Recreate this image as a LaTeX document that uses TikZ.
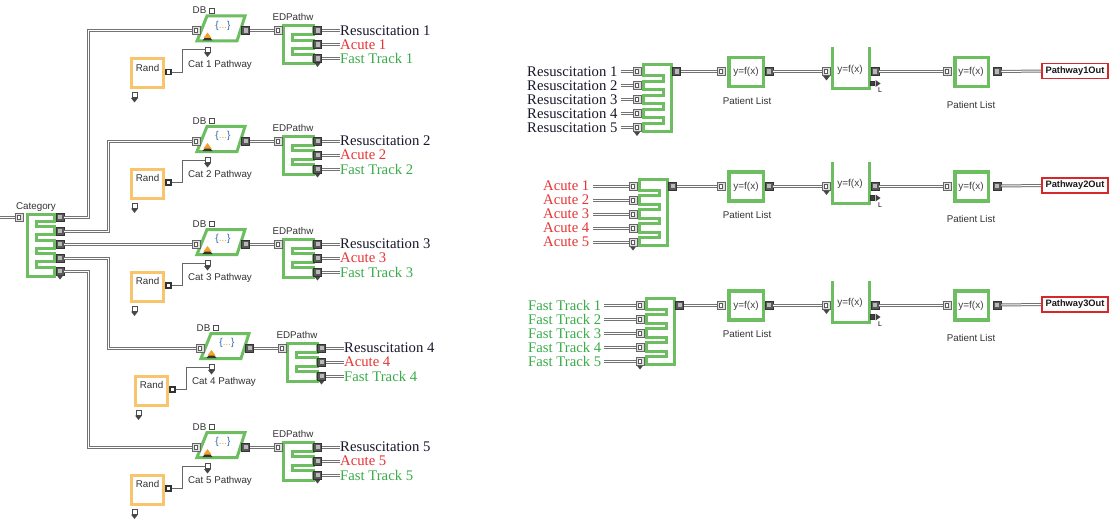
\documentclass[tikz,border=0pt]{standalone}
\usepackage{fontspec}
\setmainfont{Liberation Serif}
\setsansfont{Liberation Sans}
\definecolor{blkgreen}{RGB}{108,190,96}
\definecolor{randorange}{RGB}{248,196,108}
\definecolor{textdark}{RGB}{25,25,45}
\definecolor{textred}{RGB}{232,52,52}
\definecolor{textgreen}{RGB}{58,172,74}
\definecolor{outred}{RGB}{214,40,40}
\definecolor{dbblue}{RGB}{40,100,170}
\definecolor{arroworange}{RGB}{245,160,40}

% small dark "connector below" triangle
\newcommand\dtri[2]{\fill[black!72] (#1-3.5,#2) -- (#1+3.5,#2) -- (#1,#2+4.5) -- cycle;}
% comb block, arms open to the right: L T R B spine notches
\newcommand\combR[6]{\draw[blk] (#1,#2) -- (#3,#2) \foreach \nn in {#6} { -- (#3,\nn-2.6) -- (#5,\nn-2.6) -- (#5,\nn+2.6) -- (#3,\nn+2.6) } -- (#3,#4) -- (#1,#4) -- cycle;}
% comb block, arms open to the left: L T R B spine notches (bottom first)
\newcommand\combL[6]{\draw[blk] (#1,#2) -- (#3,#2) -- (#3,#4) -- (#1,#4) \foreach \nn in {#6} { -- (#1,\nn+2.6) -- (#5,\nn+2.6) -- (#5,\nn-2.6) -- (#1,\nn-2.6) } -- cycle;}

\tikzset{
  blk/.style={draw=blkgreen, line width=3pt, fill=white},
  item/.style={draw=black!55, line width=1pt, double=white, double distance=1pt},
  vline/.style={draw=black!60, line width=0.7pt},
  inport/.style={rectangle, inner sep=0pt, minimum size=8pt, fill=gray!25, draw=black!60, line width=0.6pt,
    path picture={\draw[black!65, fill=white, line width=0.6pt]
      ([shift={(-2.2pt,-2.2pt)}]path picture bounding box.center) rectangle
      ([shift={(1.6pt,2.2pt)}]path picture bounding box.center);}},
  outport/.style={rectangle, inner sep=0pt, minimum size=8pt, fill=black!65, draw=black!80, line width=0.6pt,
    path picture={\fill[gray!55]
      ([shift={(-1.6pt,-2.2pt)}]path picture bounding box.center) rectangle
      ([shift={(2.2pt,2.2pt)}]path picture bounding box.center);}},
  vin/.style={rectangle, inner sep=0pt, minimum size=5pt, fill=white, draw=black!70, line width=0.6pt},
  vout/.style={rectangle, inner sep=0pt, minimum size=5pt, fill=white, draw=black!80, line width=1.3pt},
  lbl/.style={font=\sffamily\fontsize{9.8}{11}\selectfont, text=black!80, inner sep=0pt},
  fx/.style={font=\sffamily\fontsize{10}{11}\selectfont, text=black!75, inner sep=0pt},
  big/.style={font=\fontsize{14.7}{15}\selectfont, inner sep=0pt},
  outbox/.style={draw=outred, line width=1.8pt, fill=white, minimum width=66pt, minimum height=15pt,
    inner sep=0pt, font=\sffamily\bfseries\fontsize{9.3}{10}\selectfont, text=black!90},
}

\begin{document}
\begin{tikzpicture}[x=1pt,y=-1pt]
\useasboundingbox (0,0) rectangle (1110,524);
\fill[white] (0,0) rectangle (1110,524);

% ---------- category splitter ----------
\node[lbl] (catlbl) at (36,207) {Category};
\combR{27}{214.5}{54}{276.5}{36}{224,237.5,251,264.5}
\node[inport] (catin) at (19,217) {};
\coordinate (catsrc) at (0,217);
\draw[item] (catsrc) -- (catin.west);
\foreach \k/\y in {1/217,2/231,3/244,4/258,5/271}{
  \node[outport] (catout-\k) at (60,\y) {};
}
\dtri{60}{275}

% ---------- one pathway lookup per category ----------
\foreach \i/\yy/\dx in {1/30.5/0,2/141/0,3/244/0,4/348/4,5/447/0}{
\begin{scope}[shift={(\dx,\yy)}]
  % database lookup
  \draw[blk] (197,10.5) -- (207,-14.5) -- (245,-14.5) -- (237,10.5) -- cycle;
  \node[fx] (dbt-\i) at (223,-5) {\textcolor{dbblue}{\{}\textcolor{arroworange}{...}\textcolor{dbblue}{\}}};
  \fill[black!80] (202.5,10) -- (207.5,4) -- (212.5,10) -- cycle;
  \fill[arroworange] (203.5,7.5) -- (207.5,2) -- (211.5,7.5) -- cycle;
  \node[lbl] (dbl-\i) at (199.5,-20) {DB};
  \node[vin] (dbs-\i) at (211.5,-20) {};
  \node[inport] (dbin-\i) at (196,0) {};
  \node[outport] (dbout-\i) at (245.5,0) {};
  \node[vin] (dbbot-\i) at (207.5,19) {};
  \dtri{207.5}{22}
  \node[lbl] (cat-\i) at (220,34) {Cat \i\ Pathway};
  % random number source
  \draw[draw=randorange, line width=3pt, fill=white] (131.5,28) rectangle (163.5,57);
  \node[lbl] (rand-\i) at (147.5,37) {Rand};
  \node[vout] (randout-\i) at (168.5,41.5) {};
  \node[vin] (randbot-\i) at (134.5,64.5) {};
  \dtri{134.5}{67.5}
  \draw[vline] (randout-\i.east) -- ++(11,0) |- (dbbot-\i.west);
  % pathway selector
  \node[lbl] (edl-\i) at (293,-13.5) {EDPathw};
  \combR{283.5}{-5}{313.5}{33}{292}{7,21}
  \node[inport] (edin-\i) at (278,0) {};
  \draw[item] (dbout-\i.east) -- (edin-\i.west);
  \dtri{317.5}{32}
  \foreach \k/\nm/\col in {0/Resuscitation/textdark,1/Acute/textred,2/Fast Track/textgreen}{
    \node[outport] (edout-\i-\k) at (317.5,14*\k) {};
    \node[big, text=\col, anchor=west] (lab-\i-\k) at (340,14*\k) {\nm\ \i};
    \draw[item] (edout-\i-\k.east) -- (lab-\i-\k.west);
  }
\end{scope}
}

% category outputs to the lookups
\draw[item] (catout-1.east) -- ++(24,0) |- (dbin-1.west);
\draw[item] (catout-2.east) -- ++(44,0) |- (dbin-2.west);
\draw[item] (catout-3.east) -- (dbin-3.west);
\draw[item] (catout-4.east) -- ++(44,0) |- (dbin-4.west);
\draw[item] (catout-5.east) -- ++(24,0) |- (dbin-5.west);

% ---------- merged pathways ----------
\foreach \j/\yy/\dx/\tx/\col/\nm in {1/71.5/0/527/textdark/Resuscitation,2/186/-4/543/textred/Acute,3/305/3/528/textgreen/Fast Track}{
\begin{scope}[shift={(0,\yy)}]
  \begin{scope}[shift={(\dx,0)}]
    \combL{643.5}{-7}{671.5}{59.5}{663}{49,35,21,7}
    \dtri{637}{60}
    \node[outport] (cout-\j) at (676.5,0) {};
    \foreach \k in {0,...,4}{ \node[inport] (cin-\j-\k) at (637,14*\k) {}; }
  \end{scope}
  \foreach \k in {0,...,4}{
    \pgfmathtruncatemacro\kk{\k+1}
    \node[big, text=\col, anchor=west] (src-\j-\k) at (\tx,14*\k) {\nm\ \kk};
    \draw[item] ([xshift=3pt]src-\j-\k.east) -- (cin-\j-\k.west);
  }
  % patient list
  \draw[blk, line width=3.5pt] (728.75,-14) rectangle (763.25,15);
  \node[fx] (f1-\j) at (746,0.5) {y=f(x)};
  \node[inport] (f1in-\j) at (721,0) {};
  \node[outport] (f1out-\j) at (769,0) {};
  \node[lbl] (pl1-\j) at (747,29) {Patient List};
  \draw[item] (cout-\j.east) -- (f1in-\j.west);
  % queue
  \draw[blk, fill=none] (832,-24) -- (832,17) -- (869,17) -- (869,-24);
  \node[fx] (q-\j) at (850,-2) {y=f(x)};
  \node[inport] (qin-\j) at (826,0) {};
  \dtri{826.5}{4.5}
  \node[outport] (qout-\j) at (875,0) {};
  \node[vout, fill=black!75, minimum size=4.5pt, line width=0.6pt] (ql-\j) at (872.5,12) {};
  \fill[black!75] (875.5,8.5) -- (880.5,12) -- (875.5,15.5) -- cycle;
  \node[font=\sffamily\fontsize{7}{8}\selectfont, inner sep=0pt] (qll-\j) at (880,19) {L};
  \draw[item] (f1out-\j.east) -- (qin-\j.west);
  % second patient list
  \draw[blk, line width=3.5pt] (954.75,-14) rectangle (988.25,15);
  \node[fx] (f2-\j) at (971,0.5) {y=f(x)};
  \node[inport] (f2in-\j) at (947,0) {};
  \node[outport] (f2out-\j) at (997,0) {};
  \node[lbl] (pl2-\j) at (971,33) {Patient List};
  \draw[item] (qout-\j.east) -- (f2in-\j.west);
  % output
  \node[outbox] (pw-\j) at (1075,-0.5) {Pathway\j Out};
  \draw[item] (f2out-\j.east) -- (pw-\j.west);
\end{scope}
}
\end{tikzpicture}
\end{document}
